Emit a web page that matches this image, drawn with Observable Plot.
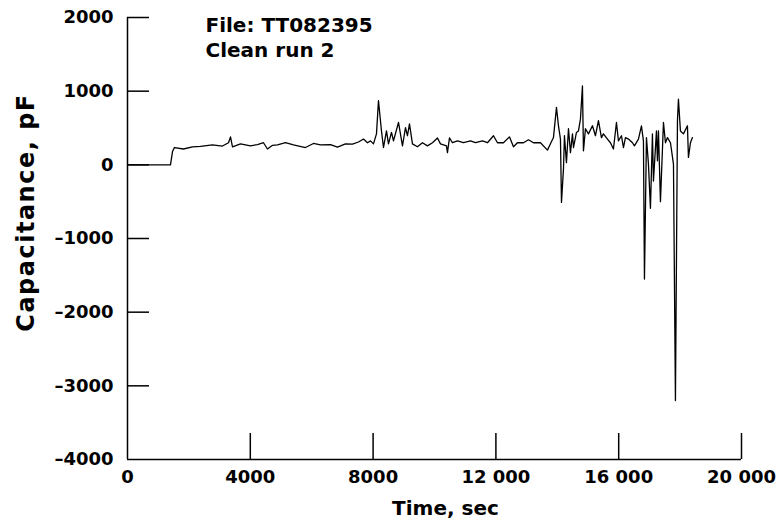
<!DOCTYPE html>
<html><head><meta charset="utf-8">
<script src="https://cdn.jsdelivr.net/npm/d3@7"></script>
<script src="https://cdn.jsdelivr.net/npm/@observablehq/plot@0.6"></script>
<style>body{margin:0;background:#fff}</style>
</head><body><div id="chart"></div>
<script>
const timeSec = [0,1400,1466,1530,1824,2117,2378,2768,3094,3290,3355,3420,3680,4006,4234,4430,4560,4723,4886,5146,5407,5797,6058,6286,6612,6840,7100,7328,7524,7687,7817,7915,8012,8110,8175,8273,8338,8436,8501,8599,8664,8827,8957,9055,9120,9185,9282,9445,9608,9771,9934,10097,10195,10390,10422,10488,10585,10748,10943,11172,11334,11562,11725,11921,12051,12246,12441,12572,12702,12898,13060,13223,13451,13679,13777,13875,13973,14038,14103,14136,14201,14233,14298,14364,14429,14494,14527,14624,14689,14754,14819,14852,14917,15015,15145,15243,15340,15438,15503,15634,15731,15829,15927,15992,16090,16155,16220,16318,16448,16513,16643,16741,16806,16839,16904,16969,17034,17099,17132,17230,17262,17295,17360,17458,17523,17588,17686,17784,17848,17914,17946,18011,18109,18239,18272,18337,18402];
const capacitancePF = [0,0,180,235,215,245,250,270,255,300,380,245,285,258,275,300,215,265,270,300,270,235,290,270,275,240,285,280,310,350,300,325,285,420,870,460,235,460,285,440,325,575,258,505,395,555,285,245,300,258,300,365,285,258,165,365,300,325,300,325,300,325,300,395,300,300,380,245,300,300,340,300,300,200,285,370,780,530,350,-510,-55,395,30,490,165,420,235,440,460,620,1070,190,490,420,530,395,600,370,420,350,300,215,575,325,395,235,370,350,300,258,350,530,325,-1550,370,10,-590,420,-220,460,55,460,-500,575,300,370,300,10,-3200,600,890,460,420,530,100,300,370];
const xTicks = [0, 4000, 8000, 12000, 16000, 20000];
const xTickLabels = ["0", "4000", "8000", "12 000", "16 000", "20 000"];
const yTicks = [-4000, -3000, -2000, -1000, 0, 1000, 2000];
const yTickLabels = ["–4000", "–3000", "–2000", "–1000", "0", "1000", "2000"];
const xTitle = "Time, sec";
const yTitle = "Capacitance, pF";
const noteFile = "File: TT082395";
const noteRun = "Clean run 2";

const data = timeSec.map((t, i) => ({t, v: capacitancePF[i]}));
const xLab = new Map(xTicks.map((d, i) => [d, xTickLabels[i]]));
const yLab = new Map(yTicks.map((d, i) => [d, yTickLabels[i]]));

const W = 781, H = 529, ML = 127, MR = 40, MT = 17, MB = 70;
const fw = W - ML - MR, fh = H - MT - MB;
const xDom = [0, 20000];
const yTickLen = 22 * (xDom[1] - xDom[0]) / fw; // 22 px expressed in x units

const chart = Plot.plot({
  width: W, height: H,
  marginLeft: ML, marginRight: MR, marginTop: MT, marginBottom: MB,
  style: {fontFamily: "'DejaVu Sans', sans-serif", fontWeight: "bold", color: "#000", background: "#fff"},
  x: {domain: xDom},
  y: {domain: [-4000, 2000]},
  marks: [
    Plot.axisX(xTicks, {tickSize: 0, tickPadding: 11, tickFormat: d => xLab.get(d), fontSize: 18, fontWeight: "bold", label: null}),
    Plot.axisY(yTicks, {tickSize: 0, tickPadding: 14, tickFormat: d => yLab.get(d), fontSize: 18, fontWeight: "bold", label: null}),
    Plot.ruleX([0], {stroke: "#000", strokeWidth: 1.5}),
    Plot.ruleY([-4000], {stroke: "#000", strokeWidth: 1.5}),
    Plot.ruleY(yTicks.filter(d => d > -4000), {y: d => d, x1: xDom[0], x2: xDom[0] + yTickLen, stroke: "#000", strokeWidth: 1.5}),
    Plot.tickX(xTicks.filter(d => d > 0), {x: d => d, insetTop: fh - 26, stroke: "#000", strokeWidth: 1.5}),
    Plot.line(data, {x: "t", y: "v", stroke: "#000", strokeWidth: 1.3}),
    Plot.text([yTitle], {text: d => d, frameAnchor: "left", textAnchor: "middle", lineAnchor: "middle", rotate: -90, dx: -101, dy: -26, fontSize: 24, fontWeight: "bold", fill: "#000"}),
    Plot.text([xTitle], {text: d => d, frameAnchor: "bottom", textAnchor: "middle", lineAnchor: "middle", dx: 11, dy: 49, fontSize: 20, fontWeight: "bold", fill: "#000"}),
    Plot.text([noteFile], {text: d => d, frameAnchor: "top-left", textAnchor: "start", lineAnchor: "middle", dx: 78, dy: 8, fontSize: 20, fontWeight: "bold", fill: "#000"}),
    Plot.text([noteRun], {text: d => d, frameAnchor: "top-left", textAnchor: "start", lineAnchor: "middle", dx: 78, dy: 33, fontSize: 20, fontWeight: "bold", fill: "#000"})
  ]
});
d3.select(chart).selectAll("text").filter(function() { return this.textContent === yTitle; }).attr("letter-spacing", "1.5");
document.getElementById("chart").appendChild(chart);
</script>
</body></html>
